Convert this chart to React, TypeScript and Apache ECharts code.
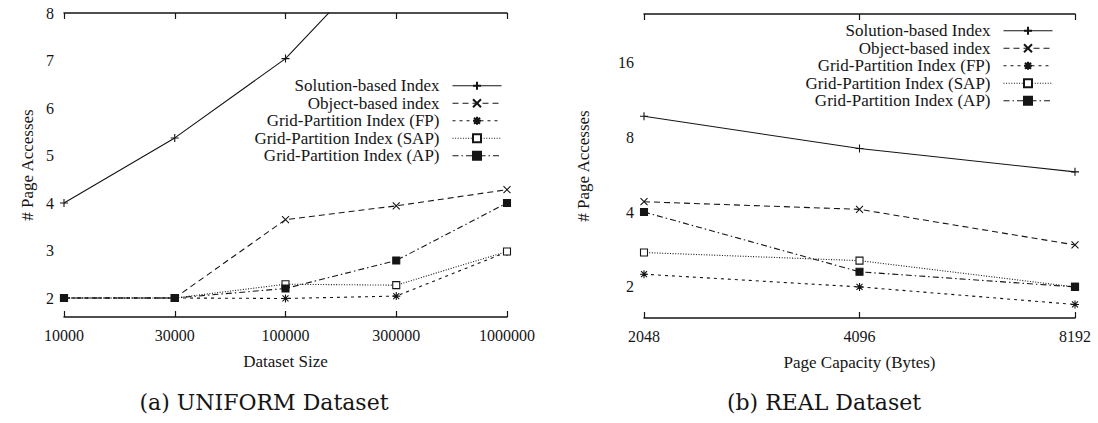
import React, { useEffect, useRef } from 'react';
import * as echarts from 'echarts';

const seriesNames = [
  'Solution-based Index',
  'Object-based index',
  'Grid-Partition Index (FP)',
  'Grid-Partition Index (SAP)',
  'Grid-Partition Index (AP)',
];

// (a) UNIFORM dataset
const uniformSizes = ['10000', '30000', '100000', '300000', '1000000'];
const uniformSolution = [4.0, 5.37, 7.04, 9.5, 12.5];
const uniformObject = [2.0, 2.0, 3.65, 3.94, 4.28];
const uniformFP = [2.0, 2.0, 1.99, 2.04, 2.97];
const uniformSAP = [2.0, 2.0, 2.29, 2.27, 2.98];
const uniformAP = [2.0, 2.0, 2.2, 2.79, 4.0];
const uniformYTicks = [2, 3, 4, 5, 6, 7, 8];

// (b) REAL dataset
const realCapacities = ['2048', '4096', '8192'];
const realSolution = [9.7, 7.2, 5.8];
const realObject = [4.4, 4.1, 2.95];
const realFP = [2.25, 2.0, 1.7];
const realSAP = [2.75, 2.55, 2.0];
const realAP = [4.0, 2.3, 2.0];
const realYTicks = [2, 4, 8, 16];

const INK = '#151515';
const SERIF = 'Liberation Serif';

const styles = [
  { symbol: 'path://M4 0L4 8M0 4L8 4', size: 8, dash: 'solid' as any, fill: 'transparent' },
  { symbol: 'path://M0 0L8 8M8 0L0 8', size: 7, dash: [6, 4], fill: 'transparent' },
  { symbol: 'path://M4 0L4 8M0 4L8 4M1 1L7 7M7 1L1 7', size: 8, dash: [3, 4], fill: 'transparent' },
  { symbol: 'rect', size: 7, dash: [1, 1.6], fill: '#ffffff' },
  { symbol: 'rect', size: 7, dash: [6, 3, 1.5, 3], fill: INK },
];

function makeSeries(values: number[][], xi: number, yi: number) {
  return values.map((vals, i) => ({
    type: 'line',
    name: seriesNames[i],
    xAxisIndex: xi,
    yAxisIndex: yi,
    data: vals,
    symbol: styles[i].symbol,
    symbolSize: styles[i].size,
    showAllSymbol: true,
    clip: true,
    lineStyle: { color: INK, width: 1.1, type: styles[i].dash },
    itemStyle: { color: styles[i].fill, borderColor: INK, borderWidth: 1.1 },
    emphasis: { disabled: true },
  }));
}

const axisLine = { onZero: false, lineStyle: { color: INK, width: 1.5 } };
const axisTick = { inside: true, length: 6, lineStyle: { color: INK, width: 1.2 } };
const labelStyle = { fontFamily: SERIF, fontSize: 16, color: INK };
const nameStyle = { fontFamily: SERIF, fontSize: 17, color: INK };

function near(v: number, list: number[]) {
  return list.some((t) => Math.abs(v - t) < 1e-6);
}

function makeLegend(right: number, top: number) {
  return {
    orient: 'vertical',
    right,
    top,
    align: 'right',
    selectedMode: false,
    itemWidth: 49,
    itemHeight: 10,
    itemGap: 0,
    padding: 5,
    data: seriesNames,
    lineStyle: { width: 1 },
    textStyle: { fontFamily: SERIF, fontSize: 17, color: INK, lineHeight: 17.5, padding: [0, 8, 0, 0] },
  };
}

export default function App() {
  const ref = useRef<HTMLDivElement>(null);
  useEffect(() => {
    if (!ref.current) return;
    const chart = echarts.init(ref.current, null, { renderer: 'svg' });
    const option: any = {
      animation: false,
      backgroundColor: '#ffffff',
      textStyle: { fontFamily: SERIF },
      grid: [
        { left: 64, top: 13, width: 443, height: 304 },
        { left: 644, top: 14, width: 431, height: 304 },
      ],
      legend: [makeLegend(591, 72), makeLegend(40, 17)],
      xAxis: [
        {
          gridIndex: 0, type: 'category', position: 'bottom', data: uniformSizes, boundaryGap: false,
          axisLine, axisTick, axisLabel: { ...labelStyle, margin: 10 },
          name: 'Dataset Size', nameLocation: 'middle', nameGap: 36, nameTextStyle: nameStyle,
        },
        {
          gridIndex: 0, type: 'category', position: 'top', data: uniformSizes, boundaryGap: false,
          axisLine, axisTick, axisLabel: { show: false },
        },
        {
          gridIndex: 1, type: 'category', position: 'bottom', data: realCapacities, boundaryGap: false,
          axisLine, axisTick, axisLabel: { ...labelStyle, margin: 10 },
          name: 'Page Capacity (Bytes)', nameLocation: 'middle', nameGap: 36, nameTextStyle: nameStyle,
        },
        {
          gridIndex: 1, type: 'category', position: 'top', data: realCapacities, boundaryGap: false,
          axisLine, axisTick, axisLabel: { show: false },
        },
      ],
      yAxis: [
        {
          gridIndex: 0, type: 'value', position: 'left', min: 1.6, max: 8, splitNumber: 6,
          axisLine, axisTick, splitLine: { show: false },
          axisLabel: { ...labelStyle, margin: 10, formatter: (v: number) => (near(v, uniformYTicks) ? String(Math.round(v)) : '') },
          name: '# Page Accesses', nameLocation: 'middle', nameGap: 28, nameTextStyle: nameStyle,
        },
        {
          gridIndex: 0, type: 'value', position: 'right', min: 1.6, max: 8, splitNumber: 6,
          axisLine, axisTick, splitLine: { show: false }, axisLabel: { show: false },
        },
        {
          gridIndex: 1, type: 'log', logBase: 2, position: 'left', min: 1.5, max: 25,
          axisLine, axisTick, splitLine: { show: false }, minorTick: { show: false },
          axisLabel: { ...labelStyle, margin: 10, formatter: (v: number) => (near(v, realYTicks) ? String(Math.round(v)) : '') },
          name: '# Page Accesses', nameLocation: 'middle', nameGap: 52, nameTextStyle: nameStyle,
        },
        {
          gridIndex: 1, type: 'log', logBase: 2, position: 'right', min: 1.5, max: 25,
          axisLine, axisTick, splitLine: { show: false }, axisLabel: { show: false },
        },
      ],
      series: [
        ...makeSeries([uniformSolution, uniformObject, uniformFP, uniformSAP, uniformAP], 0, 0),
        ...makeSeries([realSolution, realObject, realFP, realSAP, realAP], 2, 2),
      ],
      graphic: [
        {
          type: 'text',
          style: { text: '(a) UNIFORM Dataset', x: 264, y: 402, align: 'center', verticalAlign: 'middle', font: '22px DejaVu Serif', fill: INK },
        },
        {
          type: 'text',
          style: { text: '(b) REAL Dataset', x: 824, y: 402, align: 'center', verticalAlign: 'middle', font: '22px DejaVu Serif', fill: INK },
        },
      ],
    };
    chart.setOption(option);
    return () => chart.dispose();
  }, []);
  return <div ref={ref} style={{ position: 'fixed', left: 0, top: 0, width: 1098, height: 423 }} />;
}
